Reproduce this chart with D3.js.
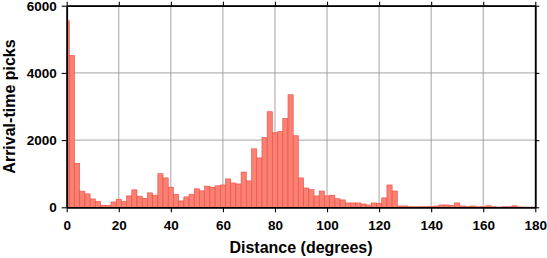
<!DOCTYPE html>
<html>
<head>
<meta charset="utf-8">
<script src="https://cdn.jsdelivr.net/npm/d3@7"></script>
<style>
  html, body { margin: 0; padding: 0; background: #fff; }
  svg { display: block; }
  text { font-family: "Liberation Sans", Arial, Helvetica, sans-serif; font-weight: bold; fill: #000; }
</style>
</head>
<body>
<svg id="chart" width="547" height="258"></svg>
<script>
// Bin centres (degrees), 2-degree bins
const binCenters = d3.range(0, 181, 2);
// Arrival-time picks per bin
const picks = [
  5550, 4520, 1310, 480, 400, 250, 180, 60, 60, 160,
  240, 180, 340, 520, 330, 270, 430, 360, 1000, 875,
  600, 390, 190, 310, 390, 550, 490, 630, 600, 640,
  665, 845, 725, 695, 1050, 785, 1740, 1470, 2080, 2845,
  2220, 2250, 2645, 3350, 2130, 875, 575, 525, 340, 485,
  340, 360, 255, 220, 130, 130, 130, 100, 70, 130,
  120, 280, 665, 485, 40, 40, 20, 15, 15, 20,
  20, 40, 70, 70, 60, 130, 40, 20, 40, 15,
  15, 45, 15, 5, 15, 15, 45, 10, 5, 5,
  5
];
const xTicks = [0, 20, 40, 60, 80, 100, 120, 140, 160, 180];
const yTicks = [0, 2000, 4000, 6000];
const binWidth = 2;
const xLabel = "Distance (degrees)";
const yLabel = "Arrival-time picks";

const svg = d3.select("#chart");
const L = 66.7, R = 535.3, T = 5.7, B = 207.3;
const x = d3.scaleLinear().domain([0, 180]).range([L, R]);
const y = d3.scaleLinear().domain([0, 6000]).range([B, T]);

// grid
const grid = svg.append("g");
grid.selectAll("line.vx").data(xTicks).join("line")
  .attr("x1", d => x(d)).attr("x2", d => x(d))
  .attr("y1", T).attr("y2", B)
  .attr("stroke", "#9a9a9a").attr("stroke-width", 0.9);
grid.selectAll("line.hy").data(yTicks).join("line")
  .attr("y1", d => y(d)).attr("y2", d => y(d))
  .attr("x1", L).attr("x2", R)
  .attr("stroke", "#9a9a9a").attr("stroke-width", 0.9);

// bars
svg.append("clipPath").attr("id", "clip").append("rect")
  .attr("x", L).attr("y", T).attr("width", R - L).attr("height", B - T);
const data = binCenters.map((c, i) => ({ c, v: picks[i] }));
svg.append("g").attr("clip-path", "url(#clip)")
  .selectAll("rect").data(data).join("rect")
  .attr("x", d => x(Math.max(0, d.c - binWidth / 2)))
  .attr("width", d => x(Math.min(180, d.c + binWidth / 2)) - x(Math.max(0, d.c - binWidth / 2)))
  .attr("y", d => y(d.v))
  .attr("height", d => y(0) - y(d.v))
  .attr("fill", "#fa8072")
  .attr("stroke", "#ee4a44")
  .attr("stroke-width", 0.6);

// axes
const fmt = d3.format("d");
function styleAxis(g) {
  g.select(".domain").attr("stroke", "#000").attr("stroke-width", 1.8);
  g.selectAll(".tick line").attr("stroke", "#000").attr("stroke-width", 1.1);
  g.selectAll(".tick text").attr("fill", "#000")
    .style("font-size", "13.5px").style("font-family", "'Liberation Sans', Arial, sans-serif").style("font-weight", "bold");
}
svg.append("g").attr("transform", `translate(0,${B})`)
  .call(d3.axisBottom(x).tickValues(xTicks).tickFormat(fmt).tickSize(5).tickSizeOuter(0).tickPadding(8))
  .call(styleAxis);
svg.append("g").attr("transform", `translate(0,${T})`)
  .call(d3.axisTop(x).tickValues(xTicks).tickSize(4).tickSizeOuter(0).tickFormat(""))
  .call(styleAxis);
svg.append("g").attr("transform", `translate(${L},0)`)
  .call(d3.axisLeft(y).tickValues(yTicks).tickFormat(fmt).tickSize(5).tickSizeOuter(0).tickPadding(5))
  .call(styleAxis);
svg.append("g").attr("transform", `translate(${R},0)`)
  .call(d3.axisRight(y).tickValues(yTicks).tickSize(4).tickSizeOuter(0).tickFormat(""))
  .call(styleAxis);

// axis titles
svg.append("text")
  .attr("x", (L + R) / 2).attr("y", 252.5)
  .attr("text-anchor", "middle")
  .style("font-size", "16px")
  .text(xLabel);
svg.append("text")
  .attr("transform", `translate(14.5,${(T + B) / 2}) rotate(-90)`)
  .attr("text-anchor", "middle")
  .style("font-size", "16px")
  .text(yLabel);
</script>
</body>
</html>
